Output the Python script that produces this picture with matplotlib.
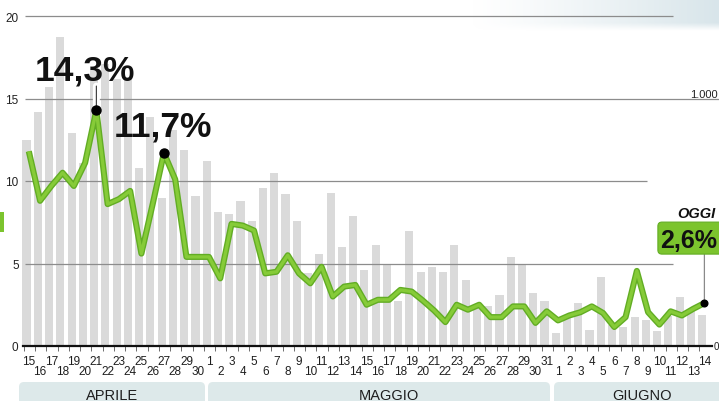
import matplotlib
matplotlib.use('Agg')
import matplotlib.pyplot as plt
import numpy as np
from matplotlib.patches import FancyBboxPatch, Rectangle
import matplotlib.patheffects as pe

plt.rcParams['font.family'] = ['Liberation Sans', 'DejaVu Sans']

# ---------------- data ----------------
day_labels = ['15', '16', '17', '18', '19', '20', '21', '22', '23', '24', '25', '26', '27', '28', '29', '30',
              '1', '2', '3', '4', '5', '6', '7', '8', '9', '10', '11', '12', '13', '14', '15', '16',
              '17', '18', '19', '20', '21', '22', '23', '24', '25', '26', '27', '28', '29', '30', '31',
              '1', '2', '3', '4', '5', '6', '7', '8', '9', '10', '11', '12', '13', '14']

# grey bars (scaled to left axis)
bars = [12.5, 14.2, 15.7, 18.7, 12.9, 11.1, 17.0, 17.1, 16.2, 16.2, 10.8, 13.9, 9.0, 13.1, 11.9, 9.1,
        11.2, 8.1, 8.0, 8.8, 7.6, 9.6, 10.5, 9.2, 7.6, 4.4, 5.6, 9.3, 6.0, 7.9, 4.6, 6.1,
        5.0, 2.7, 7.0, 4.5, 4.8, 4.5, 6.1, 4.0, 2.4, 2.4, 3.1, 5.4, 5.0, 3.2, 2.7,
        0.8, 1.9, 2.6, 1.0, 4.2, 1.3, 1.15, 1.75, 1.6, 0.9, 1.8, 3.0, 2.2, 1.9]

# green line (percentage)
rate = [11.8, 8.8, 9.7, 10.5, 9.7, 11.1, 14.3, 8.6, 8.9, 9.4, 5.6, 8.6, 11.7, 10.1, 5.4, 5.4,
        5.4, 4.1, 7.4, 7.3, 7.0, 4.4, 4.5, 5.5, 4.4, 3.8, 4.8, 3.0, 3.6, 3.7, 2.5, 2.8,
        2.8, 3.4, 3.3, 2.75, 2.15, 1.45, 2.5, 2.2, 2.5, 1.75, 1.75, 2.4, 2.4, 1.4, 2.1,
        1.55, 1.85, 2.05, 2.4, 2.0, 1.15, 1.75, 4.55, 2.05, 1.3, 2.1, 1.85, 2.25, 2.6]

months = ['APRILE', 'MAGGIO', 'GIUGNO']
peak_labels = {6: '14,3%', 12: '11,7%'}
today_label = '2,6%'
today_tag = 'OGGI'
yticks = [0, 5, 10, 15, 20]
right_label = '1.000'

# ---------------- layout ----------------
W, H = 719, 402
PX0, PXD = 28.8, 11.26          # pixel x of day 0 and pixel per day
Y0, PYU = 347, 16.5             # pixel y of value 0 and pixel per unit

def xd(px):
    return (px - PX0) / PXD

GREEN = '#7cc42e'
GREEN_D = '#62ad24'

fig = plt.figure(figsize=(W / 100, H / 100), dpi=100)
fig.patch.set_facecolor('white')

bg = fig.add_axes([0, 0, 1, 1], zorder=0)
bg.axis('off')

# top-right soft gradient
gx = np.linspace(0, 1, 256)
gy = np.linspace(0, 1, 40)
alpha = np.outer(np.clip(1.0 - (gy - 0.75) / 0.25, 0, 1), np.clip(gx, 0, 1) ** 1.2)
img = np.zeros((40, 256, 4))
img[..., 0] = 0.85
img[..., 1] = 0.90
img[..., 2] = 0.92
img[..., 3] = alpha
bg.imshow(img, extent=[470, W, 32, 0], aspect='auto', interpolation='bilinear')
bg.set_xlim(0, W)
bg.set_ylim(H, 0)

# left green tab
bg.add_patch(Rectangle((0, 213), 3.5, 20, color=GREEN, lw=0))

# month bands
band_px = [(19, 205), (208, 550), (554, 732)]
band_text_x = [112, 389, 642]
for name, (a, b), tx in zip(months, band_px, band_text_x):
    bg.add_patch(FancyBboxPatch((a, 383), b - a, 30,
                                boxstyle='round,pad=0,rounding_size=5',
                                fc='#dde9ea', ec='none'))
    bg.text(tx, 396, name, ha='center', va='center', fontsize=10.5, color='#1e1e1e')

bg.text(718, 98, right_label, ha='right', va='baseline', fontsize=8, color='#222')
bg.text(718.5, 347, '0', ha='right', va='center', fontsize=7, color='#222')

# ---------------- main axes ----------------
ax = fig.add_axes([20 / W, (H - Y0) / H, (W - 20) / W, Y0 / H], zorder=1)
ax.set_facecolor('none')
ax.set_xlim(xd(20), xd(W))
ax.set_ylim(0, Y0 / PYU)

x = np.arange(len(rate))
ax.bar(x - 0.2, bars, width=0.72, color='#dadada', zorder=1, linewidth=0)

for val, end_px in [(5, 673), (10, 647), (15, 719), (20, 673)]:
    ax.plot([xd(25), xd(end_px)], [val, val], color='#8c8c8c', lw=0.9,
            zorder=2, clip_on=False, solid_capstyle='butt')

ax.plot(x, rate, color=GREEN_D, lw=4.4, zorder=3, solid_joinstyle='round',
        solid_capstyle='butt')
ax.plot(x, rate, color='#86cb38', lw=2.4, zorder=3.1, solid_joinstyle='round',
        solid_capstyle='butt')

for s in ['left', 'right', 'top']:
    ax.spines[s].set_visible(False)
ax.spines['bottom'].set_linewidth(1.6)
ax.spines['bottom'].set_color('#111')
ax.spines['bottom'].set_bounds(xd(23), xd(712))
ax.spines['bottom'].set_zorder(4)

ax.set_yticks(yticks)
ax.set_yticklabels([str(v) for v in yticks])
ax.tick_params(axis='y', length=0, pad=1.0, labelsize=8.5, labelcolor='#222')

ax.set_xticks(x - 0.45)
ax.set_xticklabels([])
ax.tick_params(axis='x', length=3.5, width=0.6, color='#555', direction='out')

for i, lab in enumerate(day_labels):
    dy = -15 if i % 2 == 0 else -25.5
    ax.annotate(lab, xy=(i, 0), xytext=(0, dy), textcoords='offset pixels',
                ha='center', va='center', fontsize=8.5, color='#1e1e1e',
                annotation_clip=False)

# peak annotations
for i, lab in peak_labels.items():
    ax.plot([i], [rate[i]], 'o', color='black', ms=6.5, zorder=6)
peak6 = 6
ax.annotate('', xy=(peak6, rate[peak6]), xytext=(0, 24), textcoords='offset pixels',
            arrowprops=dict(arrowstyle='-', color='#333', lw=0.8, shrinkA=0, shrinkB=0,
                            path_effects=[pe.Stroke(linewidth=5, foreground='white'), pe.Normal()]),
            zorder=5)
ax.annotate(peak_labels[6], xy=(6, rate[6]), xytext=(-11, 31), textcoords='offset pixels',
            ha='center', va='baseline', fontsize=25.5, fontweight='bold', color='#111', zorder=7)
ax.annotate(peak_labels[12], xy=(12, rate[12]), xytext=(-1, 17), textcoords='offset pixels',
            ha='center', va='baseline', fontsize=25.5, fontweight='bold', color='#111', zorder=7)

# today annotation
last = len(rate) - 1
ax.plot([last], [rate[last]], 'o', color='black', ms=4.8, zorder=6, clip_on=False)
ax.annotate('', xy=(last, rate[last]), xytext=(0, 49), textcoords='offset pixels',
            arrowprops=dict(arrowstyle='-', color='#8a8a8a', lw=0.9, shrinkA=0, shrinkB=0),
            zorder=5)

ov = fig.add_axes([0, 0, 1, 1], zorder=3)
ov.axis('off')
ov.set_xlim(0, W)
ov.set_ylim(H, 0)
fig.canvas.draw()
dx_disp, dy_disp = ax.transData.transform((last, rate[last]))
px_last, py_last = dx_disp, H - dy_disp
ov.add_patch(FancyBboxPatch((px_last - 46.5, py_last - 81), 90, 32,
                            boxstyle='round,pad=0,rounding_size=4',
                            fc=GREEN, ec=GREEN_D, lw=0.8))
ov.text(W - 1.5, py_last - 56, today_label, ha='right', va='baseline',
        fontsize=18, fontweight='bold', color='#111')
ov.text(px_last - 7.5, py_last - 90.5, today_tag, ha='center', va='center',
        fontsize=10.5, fontweight='bold', fontstyle='italic', color='#111')

fig.savefig('out.png', dpi=100)
